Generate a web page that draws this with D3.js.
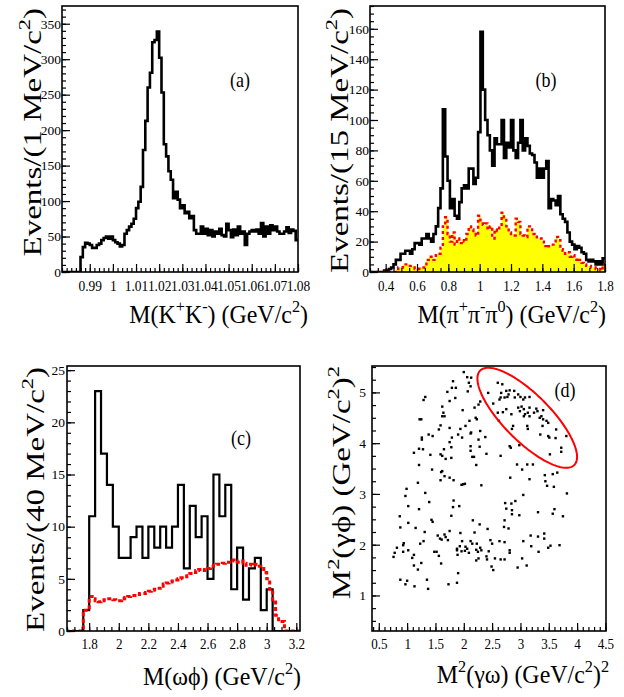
<!DOCTYPE html>
<html>
<head>
<meta charset="utf-8">
<script src="https://cdn.jsdelivr.net/npm/d3@7"></script>
<style>
  body { margin: 0; background: #fff; }
  svg { display: block; }
  svg text { font-family: "Liberation Serif", "Times New Roman", "DejaVu Serif", serif; }
</style>
</head>
<body>
<script>
// ---------- (a) M(K+K-), 1 MeV bins ----------
const kkStart = 0.978, kkWidth = 0.001;
const kkCounts = [0,0,0,0,0,0,0,0,
  21,35,41,40,38,34,34,38,40,45,48,50,47,50,45,42,40,36,38,54,
  59,64,68,75,90,99,120,172,213,260,281,324,327,339,302,253,180,163,142,130,
  104,113,102,90,94,83,85,76,79,59,54,54,64,54,61,52,59,50,57,54,
  61,52,50,68,59,49,60,52,64,54,57,38,54,57,59,57,60,54,69,50,
  64,54,66,59,64,57,54,54,57,63,55,60,58,45];
const kkXTicks = [0.99,1.00,1.01,1.02,1.03,1.04,1.05,1.06,1.07,1.08];
const kkXLabels = ["0.99","1","1.01","1.02","1.03","1.04","1.05","1.06","1.07","1.08"];
const kkYTicks = [0,50,100,150,200,250,300,350];

// ---------- (b) M(pi+ pi- pi0), 15 MeV bins ----------
const pipipiStart = 0.3, pipipiWidth = 0.015;
const pipipiData = [0,0,0,0,0,0,1,
  1,2,3,5,8,8,12,12,14,14,12,15,19,19,18,22,22,25,22,20,
  25,30,42,55,107,76,60,42,48,37,35,46,55,57,55,68,68,58,62,92,
  158,120,100,90,80,70,88,84,84,100,75,85,82,100,80,75,85,100,80,88,
  83,78,77,72,62,68,62,68,73,42,48,47,44,50,38,35,33,26,20,18,
  15,17,16,13,12,8,7,8,7,5,7,5,9];
const pipipiSideband = [0,0,0,0,0,0,0,0,0,0,0,1,
  3,3,5,5,5,4,4,2,2,3,
  3,5,8,10,10,8,12,12,16,
  30,36,25,20,26,18,22,19,21,20,
  25,30,28,27,24,37,33,31,32,28,
  30,22,28,27,30,39,36,30,26,25,
  24,35,33,25,24,23,30,28,25,24,
  22,22,20,17,16,17,18,18,23,21,
  15,14,12,13,10,11,8,9,8,6,
  5,4,4,3,3,2,2,1,5];
const pipipiXTicks = [0.4,0.6,0.8,1.0,1.2,1.4,1.6,1.8];
const pipipiXLabels = ["0.4","0.6","0.8","1","1.2","1.4","1.6","1.8"];
const pipipiYTicks = [0,20,40,60,80,100,120,140,160];

// ---------- (c) M(omega phi), data 40 MeV bins, phase space 20 MeV bins ----------
const omegaPhiStart = 1.64, omegaPhiWidth = 0.04;
const omegaPhiData = [0,0,0,2,11,23,17,14,10,7,7,9,10,7,10,8,10,8,10,14,
  6,12,9,11,5,15,11,14,4,8,3,6,7,2,4,0,0,0,0,0];
const omegaPhiMCWidth = 0.02;
const omegaPhiMC = [0,0,0,0,0,0,2.0,2.0,3.3,3.1,
  2.9,2.8,2.9,3.0,3.1,3.1,3.0,2.9,2.9,3.1,
  3.2,3.3,3.4,3.4,3.5,3.6,3.6,3.7,3.8,3.9,
  4.0,4.1,4.3,4.5,4.6,4.7,4.8,4.9,5.0,5.1,
  5.2,5.3,5.5,5.6,5.8,5.9,5.8,5.9,6.0,6.2,
  6.3,6.4,6.4,6.5,6.6,6.6,6.8,6.7,6.6,6.7,
  6.5,6.3,6.4,6.3,6.4,6.2,6.0,5.6,5.0,4.0,
  3.0,1.5,0.9,0.9,0,0,0,0,0,0];
const omegaPhiXTicks = [1.8,2.0,2.2,2.4,2.6,2.8,3.0,3.2];
const omegaPhiXLabels = ["1.8","2","2.2","2.4","2.6","2.8","3","3.2"];
const omegaPhiYTicks = [0,5,10,15,20,25];

// ---------- (d) Dalitz plot: [M2(gamma omega), M2(gamma phi)] ----------
const dalitzPoints = [
  [2.00,5.40],[2.06,5.30],[2.13,5.29],[1.81,5.22],[2.09,5.19],[1.86,5.09],[1.79,5.09],[2.12,5.12],
  [1.71,5.01],[2.07,5.02],[1.32,4.91],[1.29,4.85],[1.85,4.89],[1.75,4.83],[2.29,4.82],[2.26,4.76],
  [2.19,4.70],[1.62,4.72],[1.98,4.65],[1.64,4.60],[1.62,4.53],[1.66,4.53],[1.25,4.47],[1.22,4.47],
  [2.21,4.50],[2.23,4.47],[2.10,4.44],[1.59,4.35],[2.03,4.34],[1.94,4.28],[1.75,4.30],[1.56,4.27],
  [2.29,4.24],[2.13,4.21],[2.12,4.19],[1.90,4.17],[1.38,4.17],[1.26,4.11],[1.26,4.07],[1.45,4.14],
  [1.97,4.11],[1.79,4.11],[1.75,4.02],[2.38,4.12],[2.26,4.07],[1.78,3.92],[1.65,3.88],[1.21,3.89],
  [1.28,3.88],[2.12,3.94],[2.28,3.93],[2.12,3.85],[1.12,3.81],[1.41,3.77],[1.59,3.78],[1.62,3.75],
  [1.68,3.69],[1.78,3.71],[2.15,3.73],[2.18,3.73],[2.40,3.79],[1.21,3.57],[2.22,3.57],[1.44,3.48],
  [1.62,3.45],[1.60,3.43],[1.66,3.35],[1.75,3.32],[1.59,3.27],[1.19,3.22],[1.82,3.27],[1.96,3.18],
  [1.99,3.19],[2.02,3.20],[2.31,3.17],[0.99,3.10],[1.32,3.02],[0.97,2.96],
  [2.60,5.19],[2.68,5.16],[2.43,4.99],[2.66,4.99],[2.75,5.03],[2.81,5.04],[2.89,5.03],[2.65,4.90],
  [2.72,4.90],[2.77,4.91],[2.63,4.86],[2.79,4.96],[2.96,4.96],[3.00,4.91],[3.08,4.90],[3.16,4.91],
  [3.05,4.86],[2.90,4.90],[2.52,4.78],[2.75,4.67],[2.96,4.70],[3.02,4.72],[3.06,4.67],[2.99,4.63],
  [3.16,4.70],[3.28,4.68],[3.30,4.63],[3.40,4.65],[2.60,4.60],[2.69,4.61],[2.84,4.57],[3.08,4.57],
  [3.13,4.60],[3.24,4.60],[3.06,4.53],[3.16,4.53],[3.37,4.53],[3.34,4.50],[3.40,4.47],[3.46,4.44],
  [3.49,4.40],[2.62,4.44],[2.87,4.34],[2.85,4.28],[3.12,4.34],[3.13,4.28],[3.39,4.34],[3.63,4.27],
  [3.35,4.17],[3.49,4.14],[3.51,4.11],[3.62,4.10],[3.81,4.14],[2.81,3.94],[2.83,3.91],[2.98,3.96],
  [3.72,3.91],[3.72,3.83],[2.65,3.75],[3.52,3.78],[2.94,3.58],[3.03,3.48],[3.12,3.58],[3.22,3.58],
  [3.43,3.37],[3.57,3.39],[3.65,3.42],[2.82,3.32],[3.16,3.29],[3.44,3.25],[3.47,3.16],[3.59,3.14],
  [3.82,3.01],[3.05,2.98],
  [1.02,2.76],[1.39,2.84],[1.82,2.87],[1.81,2.74],[1.92,2.76],[0.87,2.56],[1.21,2.70],[1.02,2.43],
  [1.43,2.49],[1.45,2.45],[1.78,2.57],[2.16,2.48],[0.88,2.34],[1.15,2.33],[1.31,2.25],[1.75,2.27],
  [2.28,2.40],[2.19,2.24],[2.42,2.31],[1.94,2.23],[1.54,2.18],[1.58,2.12],[1.61,2.10],[1.66,2.20],
  [1.68,2.15],[1.72,2.09],[1.23,2.02],[1.29,2.07],[0.94,2.03],[0.93,1.99],[0.82,1.94],[1.02,1.89],
  [0.93,1.86],[1.97,2.07],[2.12,2.07],[2.15,2.02],[2.23,2.02],[2.47,2.09],[1.93,1.97],[1.88,1.92],
  [2.03,1.96],[2.06,1.92],[1.96,1.87],[2.02,1.88],[2.29,1.94],[2.31,1.89],[2.22,1.90],[2.25,1.86],
  [1.48,1.86],[1.52,1.86],[1.56,1.78],[1.88,1.89],[1.89,1.80],[2.44,1.87],[2.09,1.84],[0.78,1.84],
  [0.76,1.76],[1.12,1.80],[1.09,1.74],[1.25,1.64],[1.12,1.59],[1.60,1.63],[1.19,1.51],[2.40,1.77],
  [2.41,1.71],[2.26,1.73],[2.22,1.69],[2.49,1.57],[1.90,1.44],[0.88,1.31],[1.00,1.29],[0.97,1.22],
  [1.35,1.31],[1.13,1.18],[1.37,1.13],[1.73,1.22],[1.88,1.25],
  [2.73,2.82],[2.84,2.81],[2.91,2.86],[2.75,2.71],[2.85,2.68],[2.85,2.60],[2.98,2.58],[3.31,2.64],
  [3.60,2.70],[3.57,2.61],[3.75,2.56],[2.72,2.48],[2.71,2.35],[2.79,2.32],[2.50,2.02],[2.63,2.07],
  [2.72,2.05],[3.05,2.07],[3.18,2.18],[3.31,2.16],[3.42,2.22],[3.42,2.12],[2.81,1.89],[2.81,1.84],
  [3.19,1.97],[3.32,1.86],[3.49,1.94],[3.53,1.98],[3.69,1.99],[2.55,1.73],[2.65,1.71],[2.72,1.71],
  [3.03,1.73],[2.52,1.50],[2.95,1.55],[3.11,1.59]
];
// selection ellipse: centre and the two semi-axis vectors, in (GeV/c^2)^2
const ellipseCenter = [3.12, 4.50];
const ellipseMajor = [0.83, -0.93];
const ellipseMinor = [0.29, 0.325];
const dalitzXTicks = [0.5,1,1.5,2,2.5,3,3.5,4,4.5];
const dalitzXLabels = ["0.5","1","1.5","2","2.5","3","3.5","4","4.5"];
const dalitzYTicks = [1,2,3,4,5];

// ---------- drawing ----------
const FONT = '"Liberation Serif", "Times New Roman", "DejaVu Serif", serif';
const svg = d3.select("body").append("svg").attr("width", 624).attr("height", 697);

// text with superscripts; parts = [[string, isSup], ...]
function rich(text, parts, size) {
  let prevSup = false;
  parts.forEach(([s, sup]) => {
    const t = text.append("tspan").text(s);
    if (sup) {
      t.style("font-size", (size * 0.68) + "px");
      if (!prevSup) t.attr("dy", -size * 0.42);
    } else if (prevSup) {
      t.attr("dy", size * 0.42);
    }
    prevSup = !!sup;
  });
}

function minorValues(domain, step) {
  const out = [];
  const n0 = Math.ceil(domain[0] / step - 1e-6), n1 = Math.floor(domain[1] / step + 1e-6);
  for (let n = n0; n <= n1; n++) out.push(+(n * step).toFixed(6));
  return out;
}

function makePanel(cfg) {
  const x = d3.scaleLinear().domain(cfg.xDomain).range([cfg.left, cfg.right]);
  const y = d3.scaleLinear().domain(cfg.yDomain).range([cfg.bottom, cfg.top]);
  const g = svg.append("g");
  const clipId = "clip-" + cfg.id;
  g.append("clipPath").attr("id", clipId).append("rect")
    .attr("x", cfg.left).attr("y", cfg.top)
    .attr("width", cfg.right - cfg.left).attr("height", cfg.bottom - cfg.top);
  const plot = g.append("g").attr("clip-path", `url(#${clipId})`);

  // minor ticks
  g.append("g").attr("transform", `translate(0,${cfg.bottom})`)
    .call(d3.axisBottom(x).tickValues(minorValues(cfg.xDomain, cfg.xMinor)).tickFormat("").tickSize(-4))
    .call(a => a.select(".domain").remove());
  g.append("g").attr("transform", `translate(${cfg.left},0)`)
    .call(d3.axisLeft(y).tickValues(minorValues(cfg.yDomain, cfg.yMinor)).tickFormat("").tickSize(-4))
    .call(a => a.select(".domain").remove());

  // major ticks + labels
  const xa = g.append("g").attr("transform", `translate(0,${cfg.bottom})`)
    .call(d3.axisBottom(x).tickValues(cfg.xTicks).tickFormat((d, i) => cfg.xLabels[i])
      .tickSize(-8).tickPadding(cfg.xPad))
    .call(a => a.select(".domain").remove());
  xa.selectAll("text").style("font-family", FONT).style("font-size", "14.5px")
    .attr("fill", "#000").attr("transform", `scale(${cfg.xLabelScale},1)`);
  const ya = g.append("g").attr("transform", `translate(${cfg.left},0)`)
    .call(d3.axisLeft(y).tickValues(cfg.yTicks).tickFormat(d3.format("d"))
      .tickSize(-8).tickPadding(cfg.yPad))
    .call(a => a.select(".domain").remove());
  ya.selectAll("text").style("font-family", FONT).style("font-size", "13.5px").attr("fill", "#000");
  g.selectAll(".tick line").attr("stroke", "#000").attr("stroke-width", 1.2);

  // frame
  g.append("rect").attr("x", cfg.left).attr("y", cfg.top)
    .attr("width", cfg.right - cfg.left).attr("height", cfg.bottom - cfg.top)
    .attr("fill", "none").attr("stroke", "#000").attr("stroke-width", 1.6);

  // x title
  const xt = g.append("g").attr("transform", `translate(${cfg.xTitlePos[0]},${cfg.xTitlePos[1]}) scale(0.92,1)`)
    .append("text").attr("text-anchor", "end").style("font-family", FONT).style("font-size", "26px");
  rich(xt, cfg.xTitle, 26);
  // y title
  const yt = g.append("g").attr("transform", `translate(${cfg.yTitlePos[0]},${cfg.yTitlePos[1]}) scale(0.76,1) rotate(-90)`)
    .append("text").attr("text-anchor", "end").style("font-family", FONT).style("font-size", "33px");
  rich(yt, cfg.yTitle, 33);
  // panel tag
  g.append("g").attr("transform", `translate(${cfg.tagPos[0]},${cfg.tagPos[1]}) scale(0.82,1)`)
    .append("text").attr("text-anchor", "middle").style("font-family", FONT).style("font-size", "22px")
    .text(cfg.tag);

  return { x, y, plot };
}

function stepPoints(start, width, vals) {
  const pts = vals.map((v, i) => [start + i * width, v]);
  pts.push([start + vals.length * width, vals[vals.length - 1]]);
  return pts;
}

// ---- panel (a)
{
  const p = makePanel({
    id: "a", left: 62, right: 298, top: 6, bottom: 272,
    xDomain: [0.978, 1.08], yDomain: [0, 375], xMinor: 0.002, yMinor: 10,
    xTicks: kkXTicks, xLabels: kkXLabels, yTicks: kkYTicks, xPad: 9, yPad: 1, xLabelScale: 0.93,
    xTitle: [["M(K"], ["+", 1], ["K"], ["-", 1], [") (GeV/c"], ["2", 1], [")"]],
    yTitle: [["Events/(1 MeV/c"], ["2", 1], [")"]],
    xTitlePos: [308, 323], yTitlePos: [41, 8], tag: "(a)", tagPos: [240, 87]
  });
  const line = d3.line().x(d => p.x(d[0])).y(d => p.y(d[1])).curve(d3.curveStepAfter);
  p.plot.append("path").attr("d", line(stepPoints(kkStart, kkWidth, kkCounts)))
    .attr("fill", "none").attr("stroke", "#000").attr("stroke-width", 2.6);
}

// ---- panel (b)
{
  const p = makePanel({
    id: "b", left: 370, right: 605, top: 6, bottom: 272,
    xDomain: [0.3, 1.8], yDomain: [0, 175], xMinor: 0.05, yMinor: 5,
    xTicks: pipipiXTicks, xLabels: pipipiXLabels, yTicks: pipipiYTicks, xPad: 9, yPad: 1, xLabelScale: 0.9,
    xTitle: [["M(π"], ["+", 1], ["π"], ["-", 1], ["π"], ["0", 1], [") (GeV/c"], ["2", 1], [")"]],
    yTitle: [["Events/(15 MeV/c"], ["2", 1], [")"]],
    xTitlePos: [606, 323], yTitlePos: [348, 8], tag: "(b)", tagPos: [546, 87]
  });
  const area = d3.area().x(d => p.x(d[0])).y0(p.y(0)).y1(d => p.y(d[1])).curve(d3.curveStepAfter);
  const line = d3.line().x(d => p.x(d[0])).y(d => p.y(d[1])).curve(d3.curveStepAfter);
  const sb = stepPoints(pipipiStart, pipipiWidth, pipipiSideband);
  p.plot.append("path").attr("d", area(sb)).attr("fill", "#ffff00");
  p.plot.append("path").attr("d", line(stepPoints(pipipiStart, pipipiWidth, pipipiData)))
    .attr("fill", "none").attr("stroke", "#000").attr("stroke-width", 2.6);
  p.plot.append("path").attr("d", line(sb))
    .attr("fill", "none").attr("stroke", "#ff0000").attr("stroke-width", 2.4)
    .attr("stroke-dasharray", "3,3");
}

// ---- panel (c)
{
  const p = makePanel({
    id: "c", left: 67, right: 300, top: 366, bottom: 631,
    xDomain: [1.65, 3.225], yDomain: [0, 25.4], xMinor: 0.05, yMinor: 1,
    xTicks: omegaPhiXTicks, xLabels: omegaPhiXLabels, yTicks: omegaPhiYTicks, xPad: 8, yPad: 2, xLabelScale: 0.9,
    xTitle: [["M(ωϕ) (GeV/c"], ["2", 1], [")"]],
    yTitle: [["Events/(40 MeV/c"], ["2", 1], [")"]],
    xTitlePos: [301, 685], yTitlePos: [44, 367], tag: "(c)", tagPos: [241, 445]
  });
  const line = d3.line().x(d => p.x(d[0])).y(d => p.y(d[1])).curve(d3.curveStepAfter);
  p.plot.append("path").attr("d", line(stepPoints(omegaPhiStart, omegaPhiWidth, omegaPhiData)))
    .attr("fill", "none").attr("stroke", "#000").attr("stroke-width", 2.2);
  p.plot.append("path").attr("d", line(stepPoints(omegaPhiStart, omegaPhiMCWidth, omegaPhiMC)))
    .attr("fill", "none").attr("stroke", "#ff0000").attr("stroke-width", 3)
    .attr("stroke-dasharray", "4,2.5");
}

// ---- panel (d)
{
  const p = makePanel({
    id: "d", left: 372, right: 606, top: 366, bottom: 631,
    xDomain: [0.38, 4.51], yDomain: [0.3, 5.52], xMinor: 0.1, yMinor: 0.25,
    xTicks: dalitzXTicks, xLabels: dalitzXLabels, yTicks: dalitzYTicks, xPad: 8, yPad: 6, xLabelScale: 0.9,
    xTitle: [["M"], ["2", 1], ["(γω) (GeV/c"], ["2", 1], [")"], ["2", 1]],
    yTitle: [["M"], ["2", 1], ["(γϕ) (GeV/c"], ["2", 1], [")"], ["2", 1]],
    xTitlePos: [609, 683], yTitlePos: [350, 366], tag: "(d)", tagPos: [565, 397]
  });
  p.plot.selectAll("rect.pt").data(dalitzPoints).join("rect").attr("class", "pt")
    .attr("x", d => p.x(d[0]) - 1.2).attr("y", d => p.y(d[1]) - 1.2)
    .attr("width", 2.4).attr("height", 2.4).attr("fill", "#000");
  const ts = d3.range(0, 2 * Math.PI + 0.001, Math.PI / 90);
  const ell = ts.map(t => [
    ellipseCenter[0] + ellipseMajor[0] * Math.cos(t) + ellipseMinor[0] * Math.sin(t),
    ellipseCenter[1] + ellipseMajor[1] * Math.cos(t) + ellipseMinor[1] * Math.sin(t)
  ]);
  p.plot.append("path")
    .attr("d", d3.line().x(d => p.x(d[0])).y(d => p.y(d[1])).curve(d3.curveLinearClosed)(ell))
    .attr("fill", "none").attr("stroke", "#ff0000").attr("stroke-width", 2);
}
</script>
</body>
</html>
